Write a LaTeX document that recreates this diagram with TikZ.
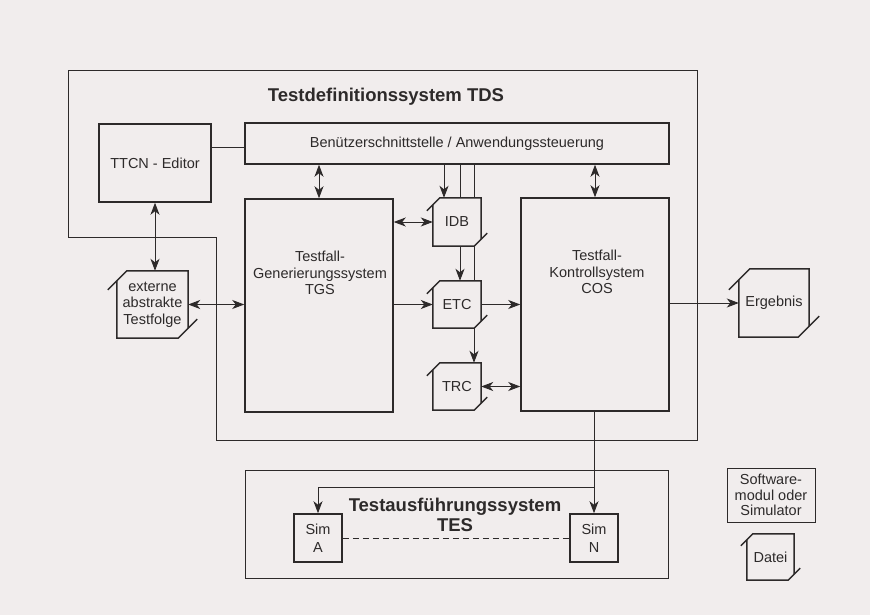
\documentclass[tikz,border=0pt]{standalone}
\usepackage{fontspec}
\setmainfont{Liberation Sans}
\usetikzlibrary{arrows.meta,calc}
\pgfdeclarelayer{paper}
\pgfdeclarelayer{behind}
\pgfsetlayers{paper,behind,main}
\definecolor{paperc}{RGB}{241,237,237}
\definecolor{ink}{RGB}{45,42,42}
\newcommand\filedraw[3]{%
  \draw[fileline] ($(#1.north west)+(-#3,#2+#3)$) -- ($(#1.north west)+(#2,0)$) -- (#1.north east) -- ($(#1.south east)+(0,-#2)$);
  \draw[fileline] ($(#1.south east)+(#3,-#2-#3)$) -- ($(#1.south east)+(-#2,0)$) -- (#1.south west) -- ($(#1.north west)+(0,#2)$);
}
\begin{document}
\begin{tikzpicture}[x=1pt,y=-1pt,
  every node/.style={font=\fontsize{14.5}{16.5}\selectfont, text=ink},
  box/.style={draw=ink, line width=1.5pt, fill=paperc, inner sep=0pt},
  filefill/.style={fill=paperc, inner sep=0pt, align=center},
  fileline/.style={draw=ink, line width=1.5pt},
  conn/.style={draw=ink, line width=0.9pt},
  arr/.style={conn, -{Stealth[length=12pt,width=9pt,inset=3.5pt]}},
  darr/.style={conn, {Stealth[length=12pt,width=9pt,inset=3.5pt]}-{Stealth[length=12pt,width=9pt,inset=3.5pt]}},
  txt/.style={align=center, inner sep=0pt},
  titlefont/.style={font=\bfseries\fontsize{18.5}{20}\selectfont},
  legendbox/.style={draw=ink, line width=0.8pt, inner sep=0pt, align=center, font=\fontsize{14.5}{15.5}\selectfont},
]
\useasboundingbox (0,0) rectangle (870,615);
\begin{pgfonlayer}{paper}
  \fill[paperc] (0,0) rectangle (870,615);
\end{pgfonlayer}

% TDS boundary
\draw[conn] (68,70) -- (697,70) -- (697,440) -- (216,440) -- (216,237) -- (68,237) -- cycle;
\node[titlefont] (tdstitle) at (386,97) {Testdefinitionssystem TDS};

% boxes
\node[box, minimum width=112pt, minimum height=78pt] (ttcn) at (155,163) {TTCN - Editor};
\node[box, minimum width=424pt, minimum height=41pt] (benu) at (457,143.5) {Benützerschnittstelle / Anwendungssteuerung};
\node[box, minimum width=148pt, minimum height=213pt] (tgs) at (319,305.5) {};
\node[txt] (tgstext) at (320,273) {Testfall-\\Generierungssystem\\TGS};
\node[box, minimum width=148pt, minimum height=213pt] (cos) at (595,304.5) {};
\node[txt] (costext) at (597,272) {Testfall-\\Kontrollsystem\\COS};

% files
\node[filefill, minimum width=48pt, minimum height=48pt] (idb) at (457,222) {IDB};
\node[filefill, minimum width=48pt, minimum height=47pt] (etc) at (457,304.5) {ETC};
\node[filefill, minimum width=48pt, minimum height=47pt] (trc) at (457,386.5) {TRC};
\node[filefill, minimum width=70pt, minimum height=68pt] (erg) at (774,303) {Ergebnis};
\node[filefill, minimum width=71pt, minimum height=67pt] (ext) at (152.5,304.5) {externe\\abstrakte\\Testfolge};
\filedraw{idb}{7}{6}
\filedraw{etc}{7}{6}
\filedraw{trc}{7}{6}
\filedraw{erg}{11}{10}
\filedraw{ext}{10}{9}

% TES
\node[box, fill=none, line width=0.9pt, minimum width=423pt, minimum height=108pt] (tes) at (456.5,524) {};
\node[titlefont, txt] (testitle) at (455,515) {Testausführungssystem\\TES};
\node[box, minimum width=48pt, minimum height=48pt, align=center, font=\fontsize{14.5}{18}\selectfont] (sima) at (318,538) {Sim\\A};
\node[box, minimum width=48pt, minimum height=48pt, align=center, font=\fontsize{14.5}{18}\selectfont] (simn) at (594,538) {Sim\\N};

% legend
\node[legendbox, minimum width=88pt, minimum height=54pt] (legmod) at (771,495) {Software-\\modul oder\\Simulator};
\node[filefill, minimum width=47pt, minimum height=46pt] (datei) at (770.5,557) {Datei};
\filedraw{datei}{6}{6}

% connectors
\coordinate (c1) at ([yshift=-3.5pt]benu.west);
\draw[conn] (c1 -| ttcn.east) -- (c1);
\draw[darr] (tgs.north |- benu.south) -- (tgs.north);
\draw[darr] (cos.north |- benu.south) -- (cos.north);
\draw[darr] (ttcn.south) -- (ttcn.south |- ext.north);
\draw[darr] (ext.east) -- (ext.east -| tgs.west);
\draw[darr] (idb.west -| tgs.east) -- (idb.west);
\draw[arr] (tgs.east |- etc.west) -- (etc.west);
\draw[arr] (etc.east) -- (etc.east -| cos.west);
\draw[darr] (trc.east) -- (trc.east -| cos.west);
\draw[arr] (cos.east |- erg.west) -- (erg.west);

\coordinate (x1) at ([xshift=-13pt]idb.north);
\coordinate (x2) at ([xshift=3pt]etc.north);
\coordinate (x3) at ([xshift=17pt]trc.north);
\draw[arr] (x1 |- benu.south) -- (x1);
\begin{pgfonlayer}{behind}
  \draw[arr] (x2 |- benu.south) -- (x2);
  \draw[arr] (x3 |- benu.south) -- (x3);
\end{pgfonlayer}

\draw[arr] (simn.north |- cos.south) -- (simn.north);
\coordinate (br) at (594,487);
\draw[arr] (br) -| (sima.north);
\draw[conn, line width=1pt, dash pattern=on 6pt off 4pt] (sima.east) -- (simn.west);
\end{tikzpicture}
\end{document}
